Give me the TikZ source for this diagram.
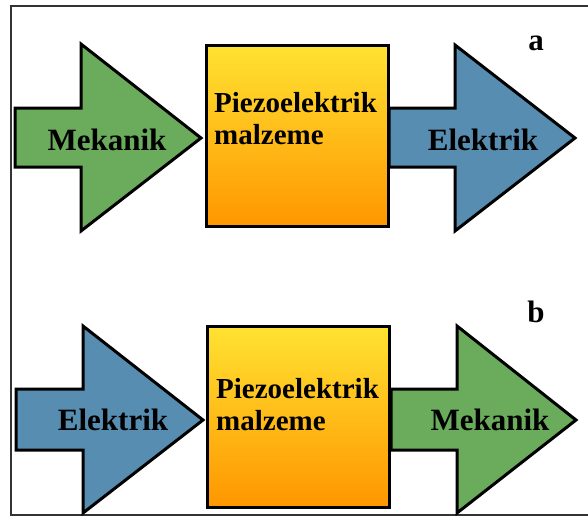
\documentclass[tikz,border=0pt]{standalone}
\usepackage{fontspec}
\setmainfont{Liberation Serif}
\definecolor{mekgruen}{HTML}{6AAB5C}
\definecolor{elblau}{HTML}{568DB0}
\definecolor{kastengelb}{HTML}{FFE232}
\definecolor{kastenorange}{HTML}{FF9600}
\tikzset{
	pfeil/.style={draw=black,line width=3pt,line join=miter},
	gruenpfeil/.style={pfeil,fill=mekgruen},
	blaupfeil/.style={pfeil,fill=elblau},
	kasten/.style={draw=black,line width=3pt,top color=kastengelb,bottom color=kastenorange,minimum width=182pt,minimum height=181pt,inner sep=0pt},
	etikett/.style={font=\fontsize{31}{36}\selectfont\bfseries,inner sep=0pt},
	kastentext/.style={font=\fontsize{29}{32}\selectfont\bfseries,align=left,anchor=west,inner sep=0pt},
}
\begin{document}
\begin{tikzpicture}[x=1pt,y=-1pt]
	\useasboundingbox (0,0) rectangle (588,517);
	% rahmen
	\draw[line width=1.5pt,black!80] (588,6) to (11,6) to (11,515) to (588,515);
	% a
	\draw[gruenpfeil] (15,108) to (81,108) to (81,44) to (201,138) to (81,231) to (81,167) to (15,167) to cycle;
	\draw[blaupfeil] (389,108) to (455,108) to (455,45) to (575,138) to (455,231) to (455,167) to (389,167) to cycle;
	\node[kasten] (kastenA) at (297.5,136) {};
	\node[kastentext] (textA) at (214,119) {Piezoelektrik\\malzeme};
	\node[etikett] (mekA) at (107,140) {Mekanik};
	\node[etikett] (elA) at (483,140) {Elektrik};
	\node[etikett] (a) at (536,43) {a};
	% b
	\draw[blaupfeil] (16,389) to (83,389) to (83,326) to (203,420) to (83,513) to (83,450) to (16,450) to cycle;
	\draw[gruenpfeil] (391,389) to (457,389) to (457,326) to (576,420) to (457,513) to (457,450) to (391,450) to cycle;
	\node[kasten] (kastenB) at (298.5,416.5) {};
	\node[kastentext] (textB) at (216,405) {Piezoelektrik\\malzeme};
	\node[etikett] (elB) at (113,420) {Elektrik};
	\node[etikett] (mekB) at (490,420) {Mekanik};
	\node[etikett] (b) at (536,312) {b};
\end{tikzpicture}
\end{document}
